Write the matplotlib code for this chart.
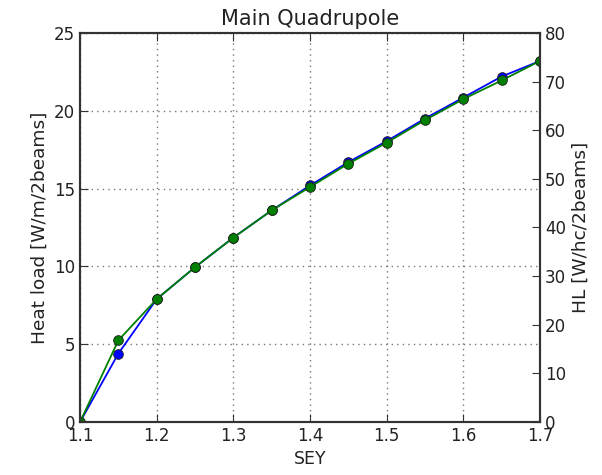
import matplotlib
matplotlib.use("Agg")
import matplotlib.pyplot as plt

sey = [1.10, 1.15, 1.20, 1.25, 1.30, 1.35, 1.40, 1.45, 1.50, 1.55, 1.60, 1.65, 1.70]
hl_blue = [0.0, 4.4, 7.9, 9.95, 11.85, 13.6, 15.2, 16.7, 18.05, 19.5, 20.85, 22.2, 23.2]
hl_green = [0.0, 5.25, 7.9, 9.95, 11.85, 13.6, 15.1, 16.6, 17.95, 19.4, 20.75, 21.95, 23.2]
hc_factor = 3.2

fig = plt.figure(figsize=(6.02, 4.75), dpi=100, facecolor="white")
ax = fig.add_axes([0.133, 0.1116, 0.764, 0.819])
ax.plot(sey, hl_blue, "o-", color="blue", lw=1.3, ms=7, mec="#202020", mew=0.6)
ax.plot(sey, hl_green, "o-", color="green", lw=1.3, ms=7, mec="#202020", mew=0.6)
ax.set_xlim(1.1, 1.7)
ax.set_ylim(0, 25)
ax.set_xticks([1.1, 1.2, 1.3, 1.4, 1.5, 1.6, 1.7])
ax.set_yticks([0, 5, 10, 15, 20, 25])
ax.grid(True, linestyle=(0, (1, 3)), color="#777777", lw=1.0)
ax.set_xlabel("SEY", fontsize=12.5, color="#222222")
ax.set_ylabel("Heat load [W/m/2beams]", fontsize=13.3, color="#222222")
ax.set_title("Main Quadrupole", fontsize=15, color="#222222")
ax.tick_params(direction="in", labelsize=12, length=6, top=True, colors="#333333", labelcolor="#222222")
ax2 = ax.twinx()
ax2.set_ylim(0, 25 * hc_factor)
ax2.set_yticks([0, 10, 20, 30, 40, 50, 60, 70, 80])
ax2.tick_params(direction="in", labelsize=12, length=6, colors="#333333", labelcolor="#222222")
ax2.set_ylabel("HL [W/hc/2beams]", fontsize=13.3, color="#222222")
ax.tick_params(axis="y", right=False)
for a in (ax, ax2):
    for s in a.spines.values():
        s.set_linewidth(1.5)
        s.set_color("#333333")
fig.savefig("out.png", dpi=100, facecolor="white")
